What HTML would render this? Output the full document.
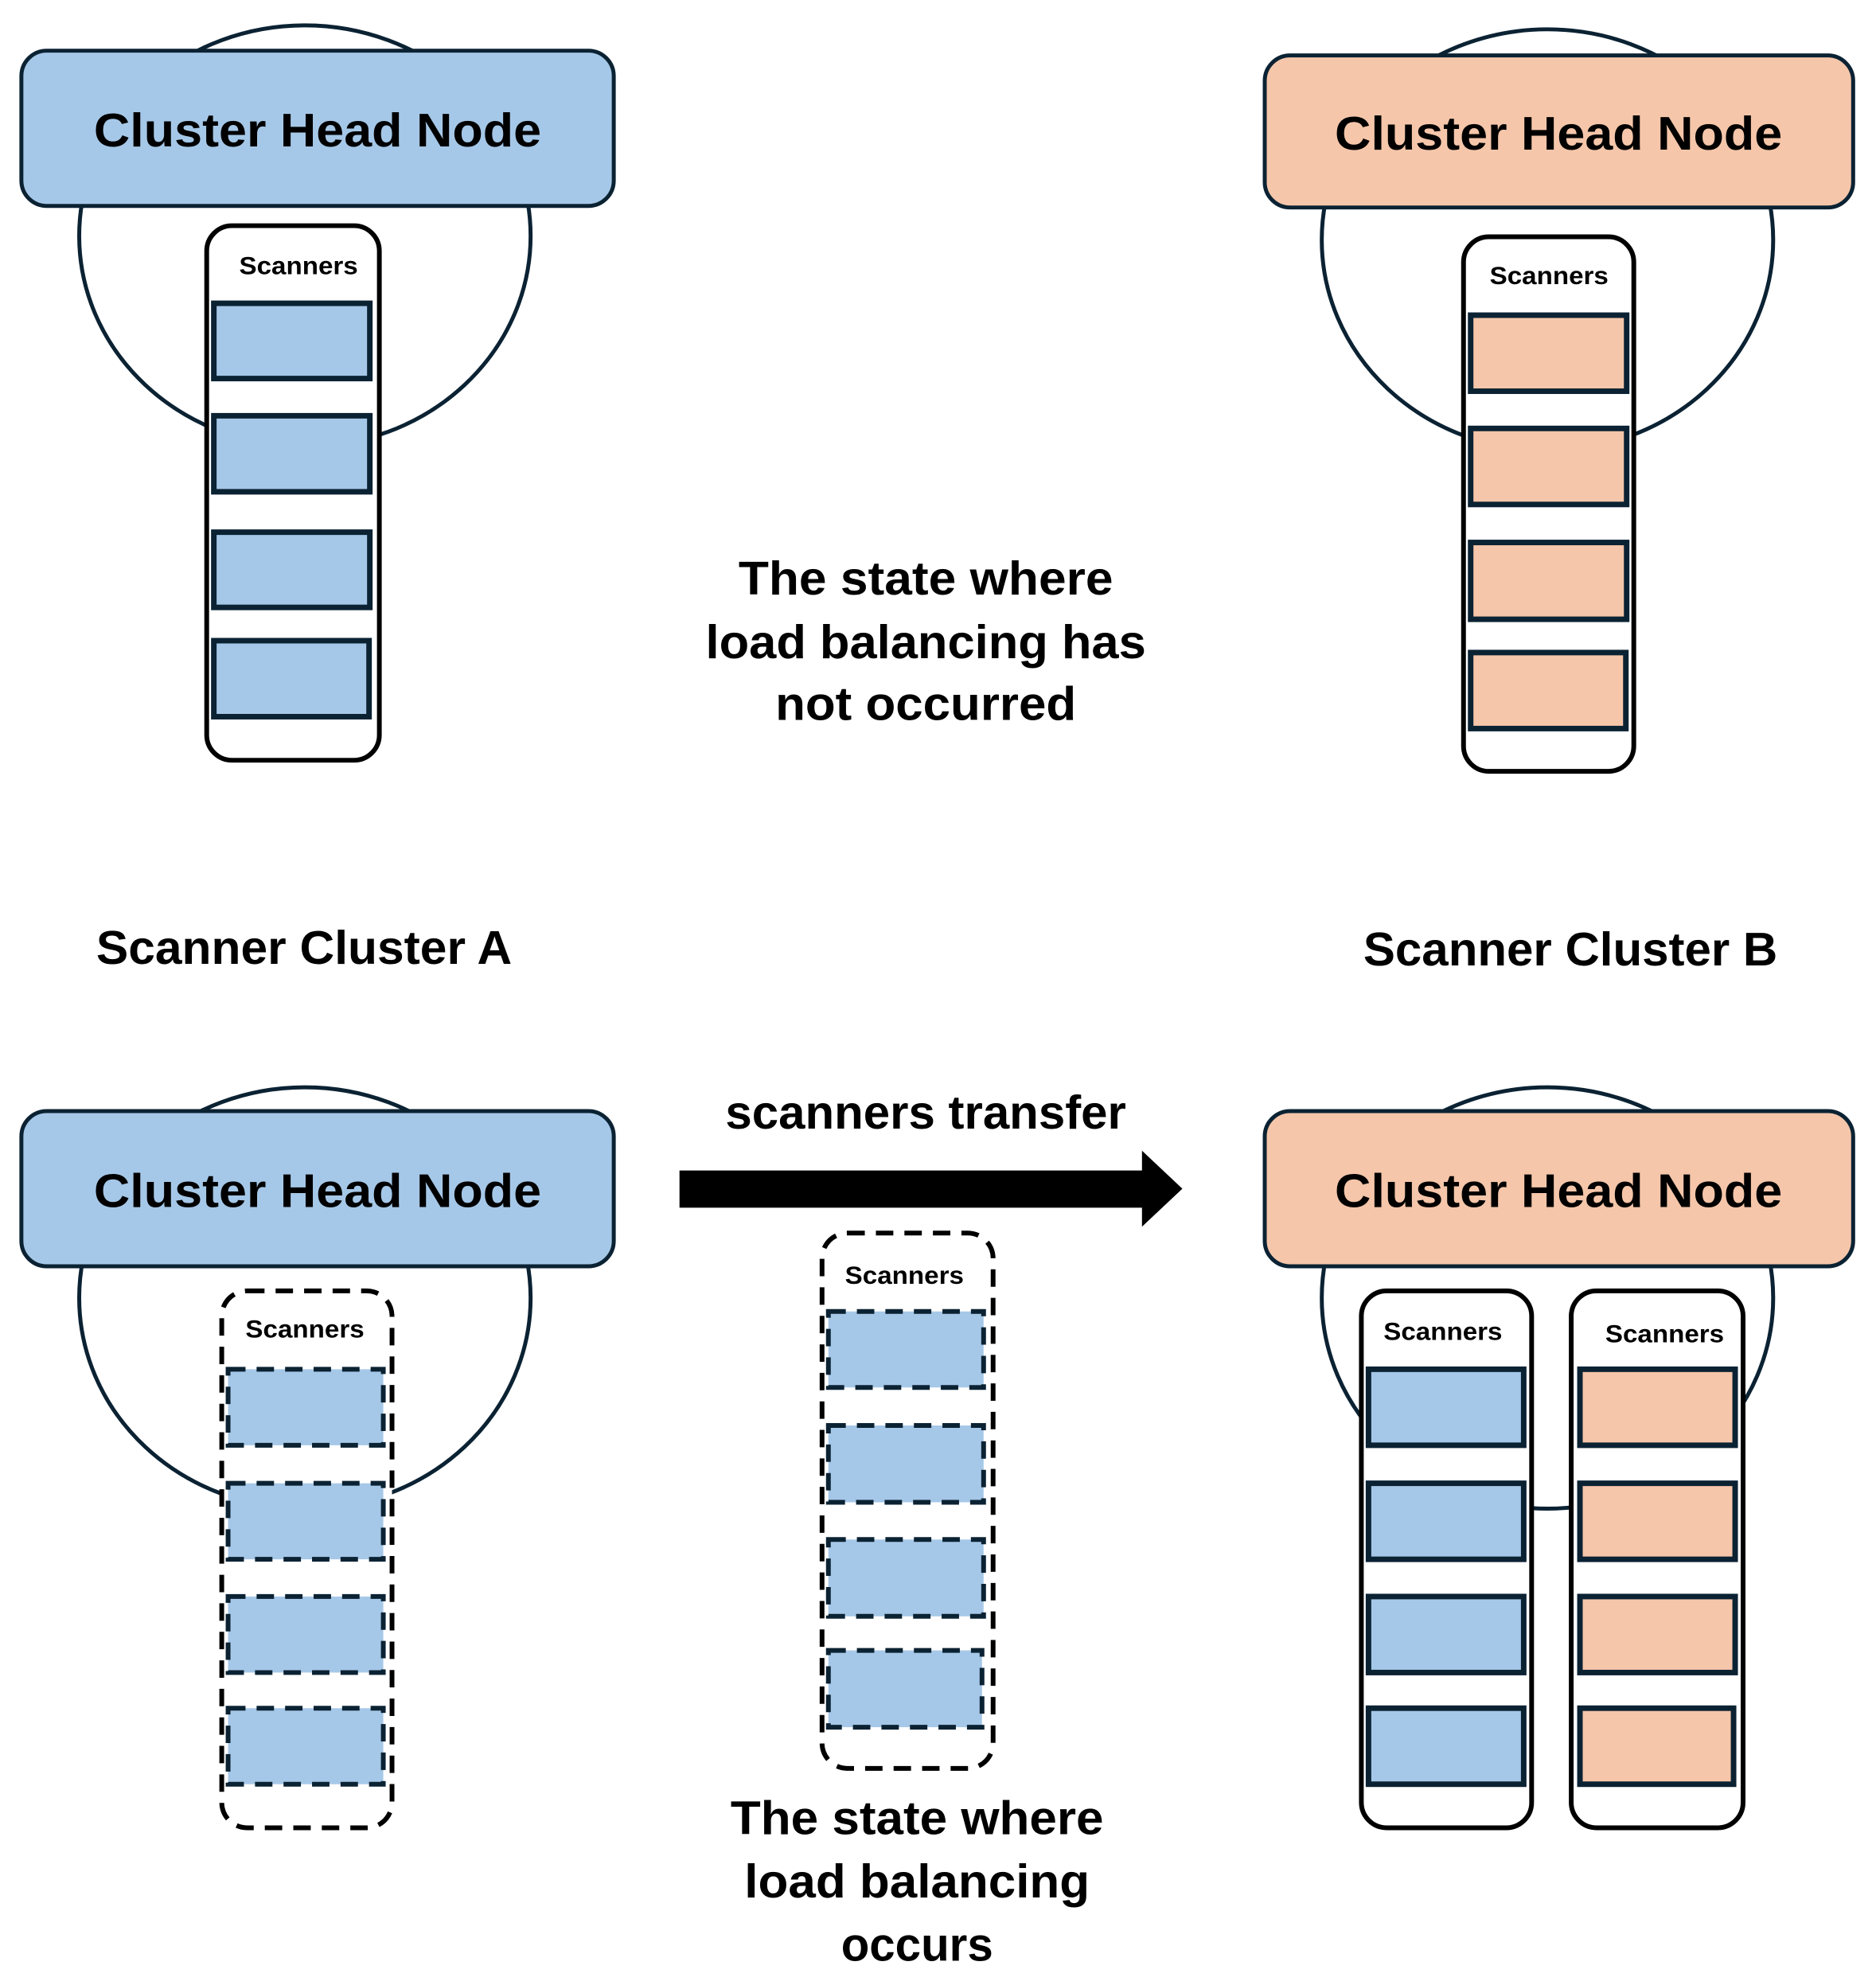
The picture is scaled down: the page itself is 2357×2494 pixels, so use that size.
<!DOCTYPE html>
<html><head><meta charset="utf-8"><style>html,body{margin:0;padding:0;background:#fff}svg{display:block}</style></head>
<body>
<svg width="2357" height="2494" viewBox="0 0 2357 2494" xmlns="http://www.w3.org/2000/svg" font-family="Liberation Sans, sans-serif" font-weight="bold">
<defs>
<style>
.c{fill:none;stroke:#0b2233;stroke-width:5}
.hb{fill:#a6c8e8;stroke:#0b2233;stroke-width:5}
.ho{fill:#f5c6aa;stroke:#0b2233;stroke-width:5}
.ct{fill:#fff;stroke:#000;stroke-width:6}
.cd{fill:#fff;stroke:#000;stroke-width:6;stroke-dasharray:22 14}
.rb{fill:#a6c8e8;stroke:#0b2233;stroke-width:7}
.ro{fill:#f5c6aa;stroke:#0b2233;stroke-width:7}
.rd{fill:#a6c8e8;stroke:#0b2233;stroke-width:6;stroke-dasharray:22 14}
.ht{font-size:60px;fill:#000}
.st{font-size:32px;fill:#000}
.bt{font-size:60px;fill:#000}
</style>
</defs>
<g transform="scale(0.995)">
<!-- Top-left cluster A -->
<ellipse class="c" cx="385" cy="298" rx="285" ry="266"/>
<rect class="hb" x="27" y="64" width="748" height="196" rx="32"/>
<text class="ht" x="401" y="185" text-anchor="middle" textLength="565" lengthAdjust="spacingAndGlyphs">Cluster Head Node</text>
<rect class="ct" x="261" y="285" width="218" height="675" rx="32"/>
<text class="st" x="377" y="346" text-anchor="middle" textLength="150" lengthAdjust="spacingAndGlyphs">Scanners</text>
<rect class="rb" x="270" y="383" width="197" height="95"/>
<rect class="rb" x="270" y="525" width="197" height="96"/>
<rect class="rb" x="270" y="672" width="197" height="95"/>
<rect class="rb" x="270" y="809" width="196" height="96"/>

<!-- Top-right cluster B -->
<ellipse class="c" cx="1954" cy="303" rx="285" ry="266"/>
<rect class="ho" x="1597" y="70" width="743" height="192" rx="32"/>
<text class="ht" x="1968" y="189" text-anchor="middle" textLength="565" lengthAdjust="spacingAndGlyphs">Cluster Head Node</text>
<rect class="ct" x="1848" y="299" width="215" height="675" rx="32"/>
<text class="st" x="1956" y="359" text-anchor="middle" textLength="150" lengthAdjust="spacingAndGlyphs">Scanners</text>
<rect class="ro" x="1857" y="398" width="197" height="96"/>
<rect class="ro" x="1857" y="541" width="197" height="96"/>
<rect class="ro" x="1857" y="685" width="197" height="97"/>
<rect class="ro" x="1857" y="824" width="196" height="96"/>

<!-- Middle text -->
<text class="bt" x="1169" y="751" text-anchor="middle" textLength="473" lengthAdjust="spacingAndGlyphs">The state where</text>
<text class="bt" x="1169" y="831" text-anchor="middle" textLength="556" lengthAdjust="spacingAndGlyphs">load balancing has</text>
<text class="bt" x="1169" y="909" text-anchor="middle" textLength="380" lengthAdjust="spacingAndGlyphs">not occurred</text>

<text class="bt" x="384" y="1217" text-anchor="middle" textLength="525" lengthAdjust="spacingAndGlyphs">Scanner Cluster A</text>
<text class="bt" x="1983" y="1219" text-anchor="middle" textLength="523" lengthAdjust="spacingAndGlyphs">Scanner Cluster B</text>

<!-- Bottom-left -->
<ellipse class="c" cx="385" cy="1639" rx="285" ry="266"/>
<rect class="hb" x="27" y="1403" width="748" height="196" rx="32"/>
<text class="ht" x="401" y="1524" text-anchor="middle" textLength="565" lengthAdjust="spacingAndGlyphs">Cluster Head Node</text>
<rect class="cd" x="280" y="1630" width="215" height="678" rx="32"/>
<text class="st" x="385" y="1689" text-anchor="middle" textLength="150" lengthAdjust="spacingAndGlyphs">Scanners</text>
<rect class="rd" x="288" y="1729" width="196" height="96"/>
<rect class="rd" x="288" y="1873" width="196" height="96"/>
<rect class="rd" x="288" y="2016" width="196" height="96"/>
<rect class="rd" x="288" y="2157" width="196" height="96"/>

<!-- Arrow -->
<text class="bt" x="1169" y="1425" text-anchor="middle" textLength="506" lengthAdjust="spacingAndGlyphs">scanners transfer</text>
<polygon points="858,1478 1442,1478 1442,1453 1493,1501 1442,1549 1442,1525 858,1525" fill="#000"/>

<!-- Middle dashed -->
<rect class="cd" x="1038" y="1557" width="216" height="676" rx="32"/>
<text class="st" x="1142" y="1621" text-anchor="middle" textLength="150" lengthAdjust="spacingAndGlyphs">Scanners</text>
<rect class="rd" x="1046" y="1656" width="196" height="96"/>
<rect class="rd" x="1046" y="1800" width="196" height="97"/>
<rect class="rd" x="1046" y="1944" width="196" height="97"/>
<rect class="rd" x="1046" y="2084" width="194" height="97"/>

<text class="bt" x="1158" y="2316" text-anchor="middle" textLength="471" lengthAdjust="spacingAndGlyphs">The state where</text>
<text class="bt" x="1158" y="2396" text-anchor="middle" textLength="436" lengthAdjust="spacingAndGlyphs">load balancing</text>
<text class="bt" x="1158" y="2476" text-anchor="middle" textLength="192" lengthAdjust="spacingAndGlyphs">occurs</text>

<!-- Bottom-right -->
<ellipse class="c" cx="1954" cy="1639" rx="285" ry="266"/>
<rect class="ho" x="1597" y="1403" width="743" height="196" rx="32"/>
<text class="ht" x="1968" y="1524" text-anchor="middle" textLength="565" lengthAdjust="spacingAndGlyphs">Cluster Head Node</text>
<rect class="ct" x="1719" y="1630" width="215" height="678" rx="32"/>
<text class="st" x="1822" y="1692" text-anchor="middle" textLength="150" lengthAdjust="spacingAndGlyphs">Scanners</text>
<rect class="rb" x="1728" y="1729" width="196" height="96"/>
<rect class="rb" x="1728" y="1873" width="196" height="96"/>
<rect class="rb" x="1728" y="2016" width="196" height="96"/>
<rect class="rb" x="1728" y="2157" width="196" height="96"/>
<rect class="ct" x="1984" y="1630" width="217" height="678" rx="32"/>
<text class="st" x="2102" y="1695" text-anchor="middle" textLength="150" lengthAdjust="spacingAndGlyphs">Scanners</text>
<rect class="ro" x="1995" y="1729" width="196" height="96"/>
<rect class="ro" x="1995" y="1873" width="196" height="96"/>
<rect class="ro" x="1995" y="2016" width="196" height="96"/>
<rect class="ro" x="1995" y="2157" width="194" height="96"/>
</g>
</svg>
</body></html>
